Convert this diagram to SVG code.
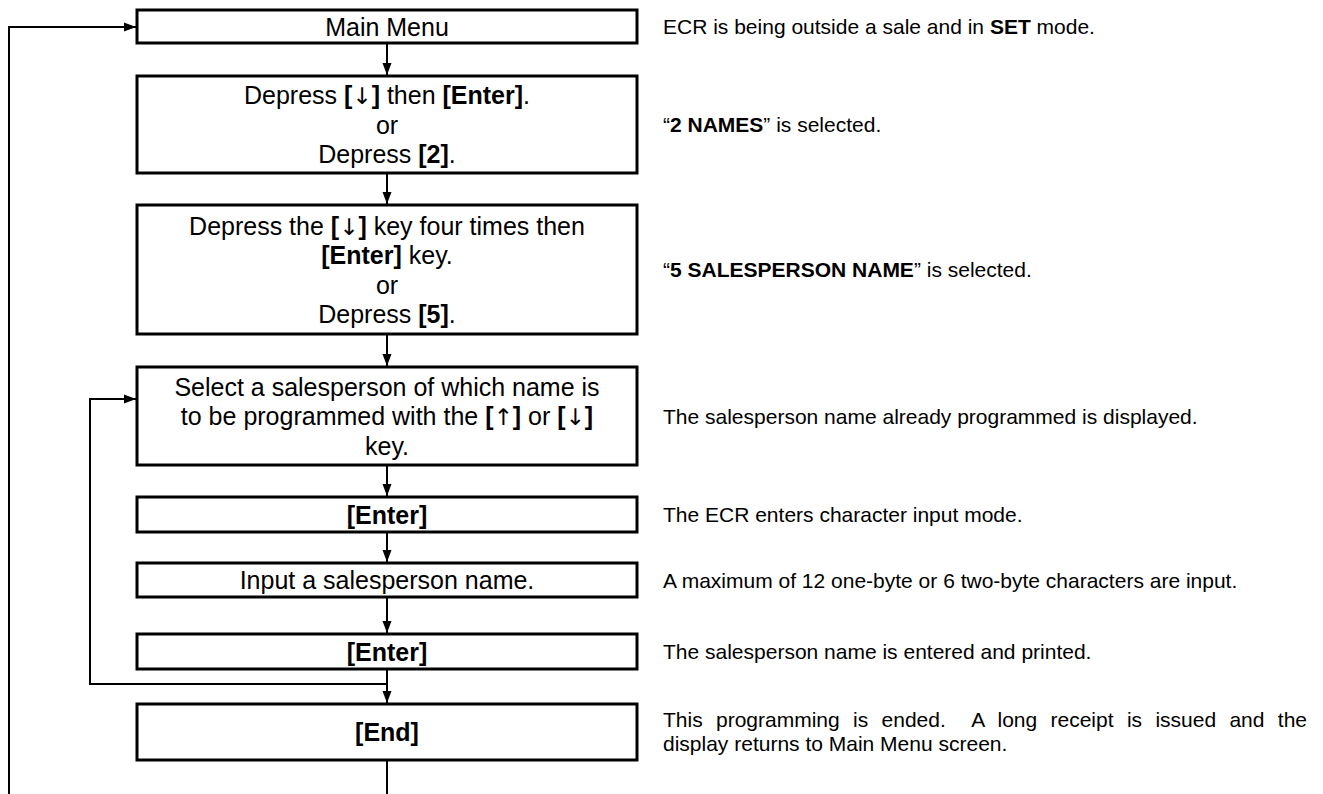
<svg xmlns="http://www.w3.org/2000/svg" width="1323" height="794" viewBox="0 0 1323 794">
  <defs>
    <marker id="arrow" markerWidth="12" markerHeight="10" refX="12" refY="5" orient="auto" markerUnits="userSpaceOnUse">
      <path d="M0,0.5 L12,5 L0,9.5 Z" fill="#000"/>
    </marker>
    <style>
      .box { fill: #fff; stroke: #000; stroke-width: 3; }
      .step { font-family: "Liberation Sans", Arial, sans-serif; font-size: 25px; fill: #000; text-anchor: middle; }
      .note { font-family: "Liberation Sans", Arial, sans-serif; font-size: 21px; fill: #000; }
      .b { font-weight: bold; }
      .key { font-family: "DejaVu Sans", sans-serif; font-weight: normal; font-size: 23px; }
      .link { fill: none; stroke: #000; stroke-width: 2; }
    </style>
  </defs>
  <rect width="1323" height="794" fill="#fff"/>

  <!-- connectors -->
  <g id="connectors">
    <line class="link" x1="387" y1="43" x2="387" y2="75" marker-end="url(#arrow)"/>
    <line class="link" x1="387" y1="173" x2="387" y2="204" marker-end="url(#arrow)"/>
    <line class="link" x1="387" y1="334" x2="387" y2="366" marker-end="url(#arrow)"/>
    <line class="link" x1="387" y1="465" x2="387" y2="496" marker-end="url(#arrow)"/>
    <line class="link" x1="387" y1="532" x2="387" y2="562" marker-end="url(#arrow)"/>
    <line class="link" x1="387" y1="597" x2="387" y2="633" marker-end="url(#arrow)"/>
    <line class="link" x1="387" y1="669" x2="387" y2="703" marker-end="url(#arrow)"/>
    <!-- loop back to salesperson selection -->
    <polyline class="link" points="387,684 90,684 90,399 136,399" marker-end="url(#arrow)"/>
    <!-- return to Main Menu -->
    <polyline class="link" points="387,760 387,794"/>
    <polyline class="link" points="9,794 9,27 136,27" marker-end="url(#arrow)"/>
  </g>

  <g id="main-menu">
    <rect class="box" x="137" y="10" width="500" height="33"/>
    <text class="step" x="387" y="35.5">Main Menu</text>
  </g>

  <g id="select-names">
    <rect class="box" x="137" y="76" width="500" height="97"/>
    <text class="step" x="387" y="104">Depress <tspan class="b">[</tspan><tspan class="key">↓</tspan><tspan class="b">]</tspan> then <tspan class="b">[Enter]</tspan>.</text>
    <text class="step" x="387" y="133.5">or</text>
    <text class="step" x="387" y="163">Depress <tspan class="b">[2]</tspan>.</text>
  </g>

  <g id="select-salesperson-name">
    <rect class="box" x="137" y="205" width="500" height="129"/>
    <text class="step" x="387" y="234.5">Depress the <tspan class="b">[</tspan><tspan class="key">↓</tspan><tspan class="b">]</tspan> key four times then</text>
    <text class="step" x="387" y="264"><tspan class="b">[Enter]</tspan> key.</text>
    <text class="step" x="387" y="293.5">or</text>
    <text class="step" x="387" y="323">Depress <tspan class="b">[5]</tspan>.</text>
  </g>

  <g id="select-salesperson">
    <rect class="box" x="137" y="367" width="500" height="98"/>
    <text class="step" x="387" y="395.5">Select a salesperson of which name is</text>
    <text class="step" x="387" y="425">to be programmed with the <tspan class="b">[</tspan><tspan class="key">↑</tspan><tspan class="b">]</tspan> or <tspan class="b">[</tspan><tspan class="key">↓</tspan><tspan class="b">]</tspan></text>
    <text class="step" x="387" y="454.5">key.</text>
  </g>

  <g id="enter-input">
    <rect class="box" x="137" y="497" width="500" height="35"/>
    <text class="step b" x="387" y="523.5">[Enter]</text>
  </g>

  <g id="input-name">
    <rect class="box" x="137" y="563" width="500" height="34"/>
    <text class="step" x="387" y="589">Input a salesperson name.</text>
  </g>

  <g id="enter-name">
    <rect class="box" x="137" y="634" width="500" height="35"/>
    <text class="step b" x="387" y="660.5">[Enter]</text>
  </g>

  <g id="end">
    <rect class="box" x="137" y="704" width="500" height="56"/>
    <text class="step b" x="387" y="741">[End]</text>
  </g>

  <!-- explanatory notes -->
  <g id="notes">
    <text class="note" x="663" y="34">ECR is being outside a sale and in <tspan class="b">SET</tspan> mode.</text>
    <text class="note" x="663" y="132">“<tspan class="b">2 NAMES</tspan>” is selected.</text>
    <text class="note" x="663" y="277">“<tspan class="b">5 SALESPERSON NAME</tspan>” is selected.</text>
    <text class="note" x="663" y="423.5">The salesperson name already programmed is displayed.</text>
    <text class="note" x="663" y="522">The ECR enters character input mode.</text>
    <text class="note" x="663" y="587.5">A maximum of 12 one-byte or 6 two-byte characters are input.</text>
    <text class="note" x="663" y="659">The salesperson name is entered and printed.</text>
    <text class="note" x="663" y="727" xml:space="preserve" word-spacing="7.5">This programming is ended.  A long receipt is issued and the</text>
    <text class="note" x="663" y="751">display returns to Main Menu screen.</text>
  </g>
</svg>
